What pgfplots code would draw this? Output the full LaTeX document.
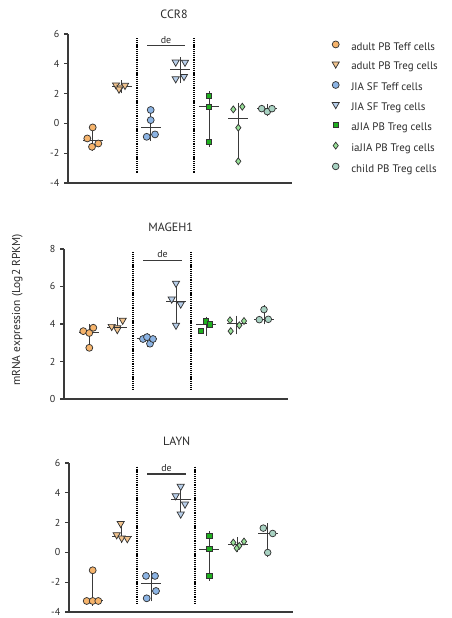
\documentclass[border=0pt]{standalone}
\usepackage{fontspec}
\setmainfont{PT Sans}
\usepackage{pgfplots}
\usepackage{pgfplotstable}
\pgfplotsset{compat=1.18}
\definecolor{axc}{HTML}{3A3A3A}
\definecolor{tickc}{HTML}{2A2A2A}
\definecolor{edge}{HTML}{333333}
\definecolor{barc}{HTML}{3A3A3A}
\definecolor{cA}{HTML}{F6B46C}
\definecolor{cB}{HTML}{F2C48E}
\definecolor{cC}{HTML}{8CB4E4}
\definecolor{cD}{HTML}{B8CFEA}
\definecolor{cE}{HTML}{1FB01F}
\definecolor{cF}{HTML}{98E098}
\definecolor{cG}{HTML}{A8D2C2}

\pgfplotsset{
  panel/.style={scale only axis, width=168pt, xmin=0, xmax=224,
    axis x line*=bottom, axis y line*=left,
    axis line style={-, line width=1.1pt, draw=axc},
    xtick=\empty, ytick style={line width=0.9pt, draw=axc},
    tick align=outside, major tick length=3pt,
    yticklabel style={font=\fontsize{7.5}{8}\selectfont, text=tickc},
    /pgf/number format/assume math mode=true, clip=false, anchor=south west},
  sepl/.style={line width=0.9pt, dash pattern=on 0.8pt off 0.6pt, black, forget plot},
  sigl/.style={line width=0.8pt, draw=axc, forget plot},
  sA/.style={only marks, mark=*, mark size=2.6pt, mark options={fill=cA, draw=edge, line width=0.55pt}},
  sB/.style={only marks, mark=triangle*, mark size=3.1pt, mark options={rotate=180, fill=cB, draw=edge, line width=0.55pt}},
  sC/.style={only marks, mark=*, mark size=2.6pt, mark options={fill=cC, draw=edge, line width=0.55pt}},
  sD/.style={only marks, mark=triangle*, mark size=3.1pt, mark options={rotate=180, fill=cD, draw=edge, line width=0.55pt}},
  sE/.style={only marks, mark=square*, mark size=2pt, mark options={fill=cE, draw=edge, line width=0.55pt}},
  sF/.style={only marks, mark=diamond*, mark size=2.6pt, mark options={fill=cF, draw=edge, line width=0.55pt}},
  sG/.style={only marks, mark=*, mark size=2.5pt, mark options={fill=cG, draw=edge, line width=0.55pt}},
  iqr/.style={draw=none, mark=none, forget plot,
    error bars/.cd, y dir=both, y explicit,
    error bar style={line width=0.75pt, draw=barc, solid},
    error mark options={line width=0.75pt, mark size=3.6pt, draw=barc, solid}},
  med/.style={draw=none, mark=none, forget plot,
    error bars/.cd, x dir=both, x fixed=10,
    error mark=none, error bar style={line width=0.75pt, draw=barc, solid}},
}

% bars: x, median, plus (Q3-median), minus (median-Q1)
\pgfplotstableread{
x m ep em
24.5 -1.18 0.725 0.335
53.5 2.49 0.08 0.16
82.7 -0.26 0.99 0.60
112 3.625 0.485 0.595
141 1.12 0.72 2.36
170.3 0.325 0.75 2.305
199 0.99 0 0.20
}\barsCCR
\pgfplotstableread{
x m ep em
25.3 3.57 0.185 0.64
53 3.835 0.285 0.11
83 3.2 0.075 0.19
112 5.195 0.765 0.985
142 3.98 0.16 0.36
172.7 4.045 0.145 0.345
200 4.25 0.52 0.02
}\barsMAG
\pgfplotstableread{
x m ep em
23.7 -3.26 1.545 0
52.7 1.07 0.68 0.14
82 -2.085 0.505 0.875
111.7 3.52 0.75 0.78
140.3 0.22 0.89 1.80
168.7 0.55 0.16 0.23
198.7 1.27 0.36 1.28
}\barsLAY

\begin{document}
\begin{tikzpicture}
\path[use as bounding box] (0pt,0pt) rectangle (338.25pt,463.5pt);

% ---------------- CCR8 ----------------
\begin{axis}[panel, at={(51pt,326.25pt)}, height=111.75pt, ymin=-4, ymax=6, ytick={-4,-2,0,2,4,6},
  legend style={at={(rel axis cs:1.178,0.955)}, anchor=north west, draw=none, fill=none, inner sep=0pt,
    font=\fontsize{8.2}{9}\selectfont, text=tickc, row sep=7.1pt, cells={anchor=west},
    nodes={inner sep=0pt, text height=6pt, text depth=1.6pt}},
  legend cell align=left,
  legend image code/.code={\draw[#1] plot coordinates {(0pt,2.2pt)};},
  /tikz/every odd column/.append style={column sep=9pt}]
\addlegendimage{sA}\addlegendentry{adult PB Teff cells}
\addlegendimage{sB}\addlegendentry{adult PB Treg cells}
\addlegendimage{sC}\addlegendentry{JIA SF Teff cells}
\addlegendimage{sD}\addlegendentry{JIA SF Treg cells}
\addlegendimage{sE}\addlegendentry{aJIA PB Treg cells}
\addlegendimage{sF}\addlegendentry{iaJIA PB Treg cells}
\addlegendimage{sG}\addlegendentry{child PB Treg cells}
\addplot[sepl] coordinates {(69,5.73) (69,-3.4)};
\addplot[sepl] coordinates {(126,5.73) (126,-3.4)};
\addplot[sigl] coordinates {(79,5.2) (117,5.2)};
\node[font=\fontsize{7.5}{8}\selectfont, text=tickc] at (axis cs:98,5.62) {de};
\addplot[sA, forget plot] coordinates {(24.7,-0.27) (19.3,-1.01) (30.3,-1.35) (24,-1.57)};
\addplot[sB, forget plot] coordinates {(48,2.58) (52.5,2.43) (57,2.55) (51,2.3)};
\addplot[sC, forget plot] coordinates {(82.7,0.90) (82.7,0.22) (78.7,-0.90) (87,-0.74)};
\addplot[sD, forget plot] coordinates {(107.7,4.11) (117,4.1) (107.7,2.99) (116,3.15)};
\addplot[sE, forget plot] coordinates {(141,1.84) (141,1.12) (141,-1.24)};
\addplot[sF, forget plot] coordinates {(165.3,0.94) (174.3,1.12) (170.3,-0.29) (170.3,-2.54)};
\addplot[sG, forget plot] coordinates {(193.7,0.99) (199.3,0.79) (204,0.99)};
\addplot[iqr] table[x=x, y=m, y error plus=ep, y error minus=em] {\barsCCR};
\addplot[med] table[x=x, y=m] {\barsCCR};
\end{axis}

% ---------------- MAGEH1 ----------------
\begin{axis}[panel, at={(48pt,164.25pt)}, height=112.5pt, ymin=0, ymax=8, ytick={0,2,4,6,8}]
\addplot[sepl] coordinates {(69,7.82) (69,0.52)};
\addplot[sepl] coordinates {(127,7.82) (127,0.52)};
\addplot[sigl] coordinates {(79,7.4) (118,7.4)};
\node[font=\fontsize{7.5}{8}\selectfont, text=tickc] at (axis cs:98.5,7.75) {de};
\addplot[sA] coordinates {(19.3,3.62) (29.3,3.80) (25.3,3.52) (25.3,2.73)};
\addplot[sB] coordinates {(47.7,3.87) (53.3,3.80) (58.7,4.2) (53.3,3.70)};
\addplot[sC] coordinates {(79,3.2) (83,3.3) (86,2.95) (89,3.2)};
\addplot[sD] coordinates {(112,6.17) (107.7,5.33) (116.7,5.06) (112,3.93)};
\addplot[sE] coordinates {(142,4.14) (146,3.98) (137,3.62)};
\addplot[sF] coordinates {(166,4.2) (180,4.16) (175.3,3.93) (166.7,3.62)};
\addplot[sG] coordinates {(200,4.77) (195.3,4.23) (204.3,4.25)};
\addplot[iqr] table[x=x, y=m, y error plus=ep, y error minus=em] {\barsMAG};
\addplot[med] table[x=x, y=m] {\barsMAG};
\end{axis}

% ---------------- LAYN ----------------
\begin{axis}[panel, at={(51.75pt,4.5pt)}, height=111.75pt, ymin=-4, ymax=6, ytick={-4,-2,0,2,4,6}]
\addplot[sepl] coordinates {(68,5.75) (68,-3.4)};
\addplot[sepl] coordinates {(126,5.75) (126,-3.4)};
\addplot[sigl] coordinates {(78,5.26) (117,5.26)};
\node[font=\fontsize{7.5}{8}\selectfont, text=tickc] at (axis cs:97.5,5.68) {de};
\addplot[sA] coordinates {(23.7,-1.2) (17.7,-3.26) (23.7,-3.26) (29.3,-3.26)};
\addplot[sB] coordinates {(51.7,1.94) (47.7,1.18) (52.7,0.96) (58.3,0.92)};
\addplot[sC] coordinates {(77,-1.58) (86,-1.58) (87,-2.59) (77.7,-3.08)};
\addplot[sD] coordinates {(111.7,4.43) (106.7,3.80) (116,3.24) (111.7,2.57)};
\addplot[sE] coordinates {(140.3,1.11) (140.3,0.22) (140.3,-1.58)};
\addplot[sF] coordinates {(164.3,0.66) (170.3,0.44) (175,0.73) (167.7,0.28)};
\addplot[sG] coordinates {(194.3,1.63) (203.7,1.27) (198.7,-0.01)};
\addplot[iqr] table[x=x, y=m, y error plus=ep, y error minus=em] {\barsLAY};
\addplot[med] table[x=x, y=m] {\barsLAY};
\end{axis}

% titles and axis label
\node[font=\fontsize{9}{10}\selectfont, text=tickc] at (130.5pt,453pt) {CCR8};
\node[font=\fontsize{9}{10}\selectfont, text=tickc] at (128pt,293.25pt) {MAGEH1};
\node[font=\fontsize{9}{10}\selectfont, text=tickc] at (132.5pt,132.75pt) {LAYN};
\node[rotate=90, font=\fontsize{8.6}{9}\selectfont, text=tickc] at (13pt,231pt) {mRNA expression (Log2 RPKM)};
\end{tikzpicture}
\end{document}
